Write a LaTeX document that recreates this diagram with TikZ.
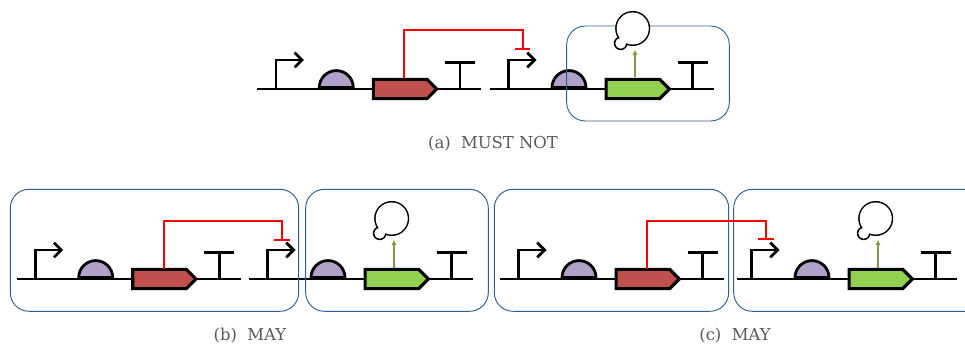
\documentclass[tikz,border=0pt]{standalone}
\usepackage{fontspec}
\setmainfont{DejaVu Serif}
\usetikzlibrary{arrows.meta, shapes.geometric, shapes.symbols}

\definecolor{rbspurple}{HTML}{B1A0C7}
\definecolor{cdsred}{HTML}{C0504D}
\definecolor{cdsgreen}{HTML}{92D050}
\definecolor{expressolive}{HTML}{7F9B45}
\definecolor{cellblue}{HTML}{2F5F8F}
\definecolor{captiongray}{HTML}{595959}

\tikzstyle{backbone}=[line width=2.2pt]
\tikzstyle{promoter}=[line width=2pt, -{Straight Barb[length=5.5pt, width=11pt, line width=2pt]}]
\tikzstyle{rbs}=[draw, line width=2.1pt, semicircle, inner sep=0pt, minimum width=25.5pt, fill=rbspurple]
\tikzstyle{cds}=[draw, line width=2.3pt, signal, signal to=east, signal pointer angle=90, inner sep=0pt, minimum width=47.5pt, minimum height=14.5pt]
\tikzstyle{stopper}=[line width=2pt]
\tikzstyle{repress}=[red, line width=1.5pt, -{Bar[width=11.5pt, line width=1.5pt]}]
\tikzstyle{express}=[expressolive, line width=1.4pt, -{Latex[length=4pt, width=4pt]}]
\tikzstyle{cell}=[draw=cellblue, line width=0.7pt, rounded corners=14pt]
\tikzstyle{blob}=[draw, line width=1.3pt, circle, inner sep=0pt, fill=white]
\tikzstyle{blobfill}=[circle, inner sep=0pt, fill=white]
\tikzstyle{caption}=[text=captiongray, font=\fontsize{12.3}{15}\selectfont]

\begin{document}
\begin{tikzpicture}[x=0.75pt, y=-0.75pt]
    \clip (0, 0) rectangle (965, 346);
    % one transcription unit per entry
    \foreach \unit/\ox/\oy/\fillcol/\lft in {a1/257.3/89/cdsred/0, a2/490/89/cdsgreen/0, b1/16.7/279/cdsred/0, b2/249/279/cdsgreen/0, c1/500/279/cdsred/0, c2/733/279/cdsgreen/4} {
        \coordinate (\unit start) at (\ox+\lft, \oy);
        \coordinate (\unit end) at (\ox+223.8, \oy);
        \coordinate (\unit pro) at (\ox+18.7, \oy);
        \coordinate (\unit protip) at (\ox+46.5, \oy-29);
        \coordinate (\unit stem) at (\ox+202.7, \oy);
        \coordinate (\unit stemtop) at (\ox+202.7, \oy-26.5);
        \coordinate (\unit barl) at (\ox+187.7, \oy-26.5);
        \coordinate (\unit barr) at (\ox+217.7, \oy-26.5);
        \coordinate (\unit tap) at (\ox+147, \oy-10.5);
        \draw[backbone] (\unit start) to (\unit end);
        \draw[promoter] (\unit pro) |- (\unit protip);
        \draw[stopper] (\unit stem) to (\unit stemtop);
        \draw[stopper] (\unit barl) to (\unit barr);
        \node[rbs, anchor=chord center] (\unit rbs) at (\ox+79, \oy) {};
        \node[cds, anchor=west, fill=\fillcol] (\unit cds) at (\ox+114.5, \oy) {};
    }
    \draw[cell] (566.7, 26) rectangle (729.3, 121);
    \draw[cell] (10.3, 189.3) rectangle (298.7, 311.3);
    \draw[cell] (305.7, 189.3) rectangle (488.3, 311.3);
    \draw[cell] (494.3, 189.3) rectangle (728.7, 311.3);
    \draw[cell] (733.7, 189.3) rectangle (985, 311.3);
    % products of the green genes
    \foreach \unit/\ox/\oy in {a2/490/89, b2/249/279, c2/733/279} {
        \node[blob, minimum size=25pt] (\unit prot) at (\ox+142.7, \oy-60.5) {};
        \node[blob, minimum size=9pt] (\unit nub) at (\ox+130.7, \oy-45.7) {};
        \node[blobfill, minimum size=24pt] (\unit protin) at (\unit prot) {};
        \node[blobfill, minimum size=8pt] (\unit nubin) at (\unit nub) {};
        \coordinate (\unit out) at (\ox+145, \oy-11.5);
        \coordinate (\unit in) at (\ox+145, \oy-39.3);
        \draw[express] (\unit out) to (\unit in);
    }
    \coordinate (a2over) at (522.7, 30);
    \coordinate (a2stop) at (522.7, 50.5);
    \coordinate (b2over) at (282, 220.5);
    \coordinate (b2stop) at (282, 240.5);
    \coordinate (c2over) at (766, 220.5);
    \coordinate (c2stop) at (766, 240);
    \draw[repress] (a1tap) |- (a2over) to (a2stop);
    \draw[repress] (b1tap) |- (b2over) to (b2stop);
    \draw[repress] (c1tap) |- (c2over) to (c2stop);
    \node[caption] (capa) at (493, 144) {(a)\ \ MUST NOT};
    \node[caption] (capb) at (250, 336) {(b)\ \ MAY};
    \node[caption] (capc) at (735, 336) {(c)\ \ MAY};
\end{tikzpicture}
\end{document}
